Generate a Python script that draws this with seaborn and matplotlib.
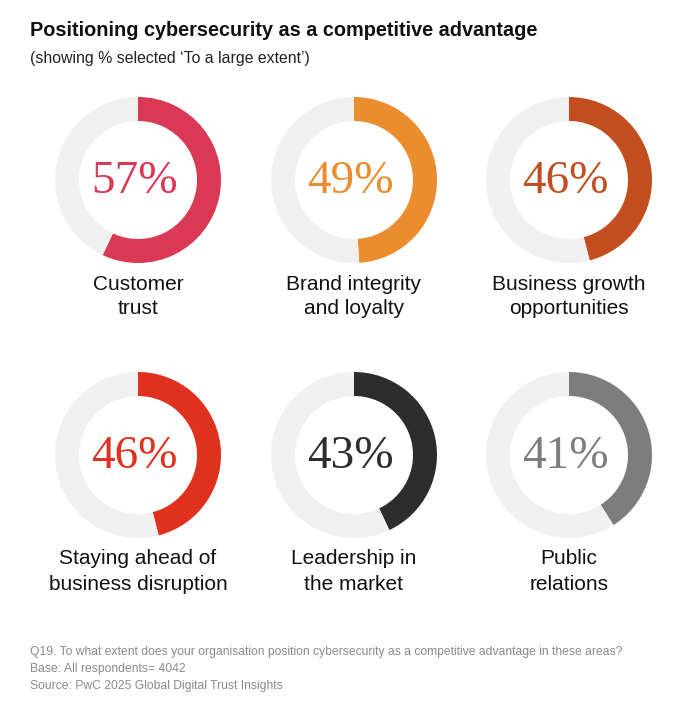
import matplotlib
matplotlib.use("Agg")
import matplotlib.pyplot as plt
import seaborn as sns

# Data
labels = ["Customer\ntrust", "Brand integrity\nand loyalty", "Business growth\nopportunities",
          "Staying ahead of\nbusiness disruption", "Leadership in\nthe market", "Public\nrelations"]
values = [57, 49, 46, 46, 43, 41]
colors = ["#D93954", "#EB8C2E", "#C24E1F", "#E0301E", "#2D2D2D", "#7D7D7D"]

sns.set_theme(style="white")
plt.rcParams['font.family'] = ['Liberation Sans', 'DejaVu Sans']

W, H = 696, 709
fig = plt.figure(figsize=(W / 100, H / 100), dpi=100)
fig.patch.set_facecolor("white")

centers_x = [138, 354, 569]
centers_y = [180, 455]
R = 83  # outer radius in px

for i, (lab, val, col) in enumerate(zip(labels, values, colors)):
    cx = centers_x[i % 3]
    cy = centers_y[i // 3]
    ax = fig.add_axes([(cx - R) / W, 1 - (cy + R) / H, 2 * R / W, 2 * R / H])
    ax.pie([val, 100 - val], colors=[col, "#F0F0F0"], startangle=90, counterclock=False,
           radius=1, wedgeprops=dict(width=24 / R, linewidth=0))
    ax.set_xlim(-1, 1)
    ax.set_ylim(-1, 1)
    ax.set_aspect("equal")
    ax.axis("off")
    ax.text(-0.04, -0.02, f"{val}%", ha="center", va="center", color=col, fontsize=34,
            family=["Liberation Serif", "DejaVu Serif"])
    # two label lines, 25 px apart
    line1, line2 = lab.split("\n")
    fig.text(cx / W, 1 - (cy + 104) / H, line1, ha="center", va="center", fontsize=15, color="#111111")
    fig.text(cx / W, 1 - (cy + 129) / H, line2, ha="center", va="center", fontsize=15, color="#111111")

fig.text(30 / W, 1 - 31 / H, "Positioning cybersecurity as a competitive advantage",
         ha="left", va="center", fontsize=14.3, fontweight="bold", color="#111111")
fig.text(30 / W, 1 - 58 / H, "(showing % selected \u2018To a large extent\u2019)",
         ha="left", va="center", fontsize=11.4, color="#222222")

notes = ["Q19. To what extent does your organisation position cybersecurity as a competitive advantage in these areas?",
         "Base: All respondents= 4042",
         "Source: PwC 2025 Global Digital Trust Insights"]
for k, n in enumerate(notes):
    fig.text(30 / W, 1 - (652 + 17 * k) / H, n, ha="left", va="center", fontsize=8.7, color="#8A8A8A")

fig.savefig("out.png", dpi=100, facecolor="white")
